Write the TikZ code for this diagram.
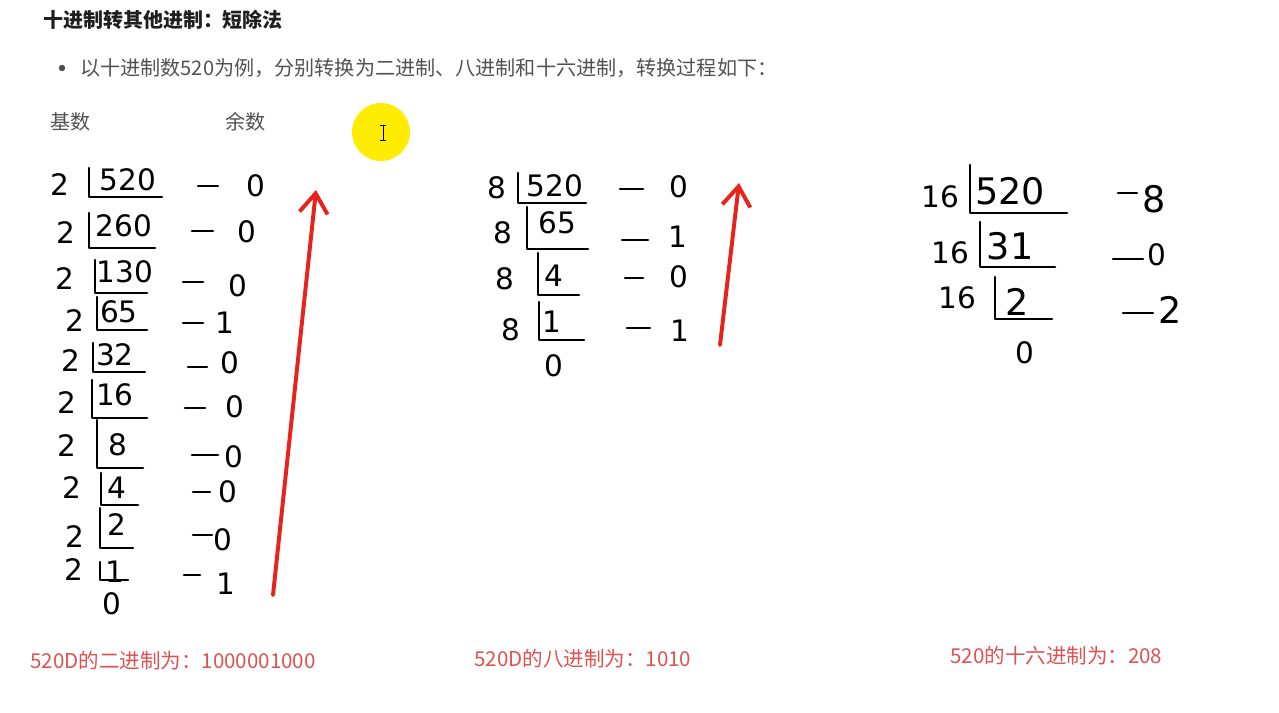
\documentclass[tikz,border=0pt]{standalone}
\usepackage{fontspec}
\usepackage{tikz}
\usetikzlibrary{arrows.meta}

\newfontfamily\cjk{Noto Sans CJK SC}
\newfontfamily\handfont{DejaVu Sans}

\definecolor{penred}{RGB}{232,35,27}
\definecolor{notered}{RGB}{222,82,82}
\definecolor{hlyellow}{RGB}{255,236,0}

\begin{document}
\begin{tikzpicture}[x=0.025cm,y=-0.025cm,
  hand/.style={font=\handfont\fontsize{21}{21}\selectfont, inner sep=0pt},
  bighand/.style={font=\handfont\fontsize{26}{26}\selectfont, inner sep=0pt},
  stroke/.style={line width=1.8pt, line cap=round, line join=round},
  heading/.style={anchor=west, inner sep=0pt, font=\cjk\bfseries\fontsize{14.2}{14.2}\selectfont, text=black!88},
  plain/.style={anchor=west, inner sep=0pt, font=\cjk\fontsize{14.3}{14.3}\selectfont, text=black!68},
  result/.style={anchor=west, inner sep=0pt, font=\cjk\fontsize{14.6}{14.6}\selectfont, text=notered},
  redarrow/.style={penred, line width=2.8pt, line cap=round, -{Straight Barb[length=14pt,width=20pt]}}]

\useasboundingbox (0,0) rectangle (1279,712);
\fill[white] (0,0) rectangle (1279,712);

% Heading and intro
\node[heading] (title) at (43,20) {十进制转其他进制：短除法};
\fill[black!70] (62,68) circle (3.2);
\node[plain] (intro) at (80,68) {以十进制数520为例，分别转换为二进制、八进制和十六进制，转换过程如下：};
\node[plain] (radix) at (50,122) {基数};
\node[plain] (rest) at (225,122) {余数};

% Cursor highlight
\fill[hlyellow] (381,132) circle (29);
\draw[line width=0.7pt] (380,125) -- (386,125) (383,125) -- (383,140) (380,140) -- (386,140);

% Binary: divide by 2
\foreach \dx/\dy/\q/\qx/\qy/\bx/\bt/\bb/\br/\da/\db/\ddy/\r/\rx/\ry [count=\i] in {
  60/185/520/128/180/89/168/197/162/198/218/186/0/256/186,
  66/233/260/124/226/89/213/248/155/192/213/231/0/247/232,
  65/279/130/125/272/95/260/293/147/183/203/282/0/238/286,
  75/321/65/119/312/97/297/330/147/183/203/323/1/225/323,
  71/361/32/115/355/93/343/372/145/188/207/367/0/230/363,
  67/403/16/115/395/92/380/418/147/185/205/408/0/235/407,
  67/446/8/118/445/97/420/468/143/192/218/455/0/234/457,
  72/488/4/117/488/101/473/505/138/193/210/492/0/228/492,
  75/537/2/117/525/100/508/548/133/193/212/535/0/223/540,
  74/570/1/115/572/100/562/580/128/184/200/575/1/226/584}
{
  \node[hand] (bin\i-div) at (\dx,\dy) {2};
  \node[hand] (bin\i-quo) at (\qx,\qy) {\q};
  \draw[stroke] (\bx,\bt) -- (\bx,\bb) -- (\br,\bb);
  \draw[stroke] (\da,\ddy) -- (\db,\ddy);
  \node[hand] (bin\i-rem) at (\rx,\ry) {\r};
}
\node[hand] (bin-end) at (112,604) {0};

% Octal: divide by 8
\foreach \dx/\dy/\q/\qx/\qy/\bx/\bt/\bb/\br/\da/\db/\ddy/\r/\rx/\ry [count=\i] in {
  497/188/520/555/186/518/173/203/586/620/643/189/0/679/187,
  503/233/65/557/223/527/207/249/588/622/648/240/1/678/237,
  505/279/4/554/276/538/253/295/579/625/643/278/0/679/277,
  511/330/1/552/322/539/302/340/584/627/650/328/1/680/331}
{
  \node[hand] (oct\i-div) at (\dx,\dy) {8};
  \node[hand] (oct\i-quo) at (\qx,\qy) {\q};
  \draw[stroke] (\bx,\bt) -- (\bx,\bb) -- (\br,\bb);
  \draw[stroke] (\da,\ddy) -- (\db,\ddy);
  \node[hand] (oct\i-rem) at (\rx,\ry) {\r};
}
\node[hand] (oct-end) at (554,366) {0};

% Hexadecimal: divide by 16
\foreach \dx/\dy/\q/\qx/\qy/\bx/\bt/\bb/\br/\da/\db/\ddy/\r/\rs/\rx/\ry [count=\i] in {
  940/197/520/1010/191/970/165/213/1067/1118/1137/193/8/bighand/1154/199,
  950/253/31/1010/246/980/222/267/1055/1113/1143/259/0/hand/1157/255,
  957/298/2/1017/302/995/277/319/1052/1123/1153/313/2/bighand/1170/310}
{
  \node[hand] (hex\i-div) at (\dx,\dy) {16};
  \node[bighand] (hex\i-quo) at (\qx,\qy) {\q};
  \draw[stroke] (\bx,\bt) -- (\bx,\bb) -- (\br,\bb);
  \draw[stroke] (\da,\ddy) -- (\db,\ddy);
  \node[\rs] (hex\i-rem) at (\rx,\ry) {\r};
}
\node[hand] (hex-end) at (1025,353) {0};

% Read the remainders upwards
\coordinate (binup-start) at (273,595);
\coordinate (binup-end) at (316,190);
\draw[redarrow] (binup-start) -- (binup-end);
\coordinate (octup-start) at (720,345);
\coordinate (octup-end) at (739,183);
\draw[redarrow] (octup-start) -- (octup-end);

% Results
\node[result] (bin-result) at (30,661) {520D的二进制为：1000001000};
\node[result] (oct-result) at (474,659) {520D的八进制为：1010};
\node[result] (hex-result) at (950,656) {520的十六进制为：208};

\end{tikzpicture}
\end{document}
